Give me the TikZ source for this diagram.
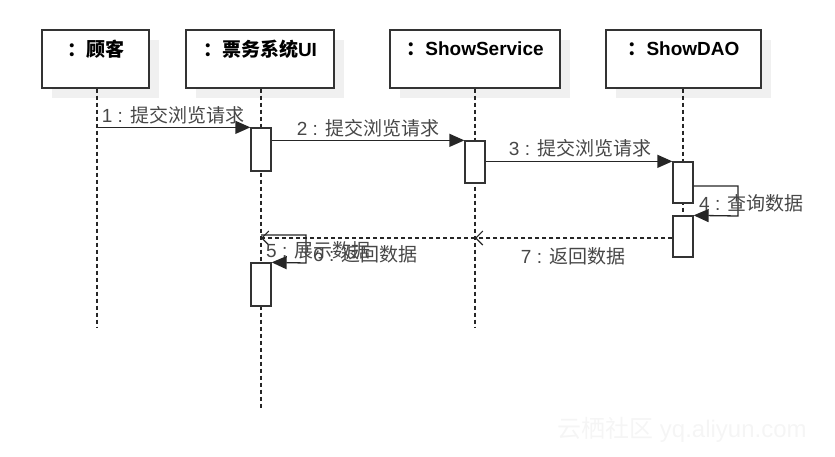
\documentclass[tikz,border=0pt]{standalone}
\usepackage{fontspec}
\setmainfont{Liberation Sans}
\newfontfamily\cjk{Noto Sans CJK SC}
\usetikzlibrary{arrows.meta,shadows}
\tikzset{
  hdr/.style={draw=black!80, line width=1.3pt, fill=white, inner sep=0pt, minimum height=58pt,
     drop shadow={shadow xshift=10pt, shadow yshift=-10pt, fill=black!6, opacity=1}},
  hdrtext/.style={font=\fontsize{19}{21}\selectfont\bfseries, text=black, inner sep=0pt},
  life/.style={line width=1.2pt, draw=black!85, dash pattern=on 4pt off 3pt},
  act/.style={draw=black!80, line width=1.3pt, fill=white, minimum width=20pt, inner sep=0pt},
  msg/.style={line width=1.3pt, draw=black!85, -{Triangle[length=15pt,width=13pt]}},
  ret/.style={line width=1.1pt, draw=black!85, dash pattern=on 4pt off 3pt, -{Straight Barb[length=7pt,width=14pt]}},
  lbl/.style={font=\fontsize{19}{21}\selectfont, text=black!72, inner sep=0pt},
}
\begin{document}
\begin{tikzpicture}[x=1pt,y=-1pt]
\useasboundingbox (0,0) rectangle (835,456);
% headers
\node[hdr, minimum width=107pt] (h1) at (95.5,59) {};
\node[hdr, minimum width=148pt] (h2) at (260,59) {};
\node[hdr, minimum width=170pt] (h3) at (475,59) {};
\node[hdr, minimum width=155pt] (h4) at (683.5,59) {};
\node[hdrtext] (t1) at (96,49) {\cjk\bfseries ：顾客};
\node[hdrtext] (t2) at (260,49) {{\cjk\bfseries ：票务系统}UI};
\node[hdrtext] (t3) at (475,49) {{\cjk\bfseries ：}ShowService};
\node[hdrtext] (t4) at (683.5,49) {{\cjk\bfseries ：}ShowDAO};
% lifeline ends
\coordinate (e1) at (97,328);
\coordinate (e2) at (261,410);
\coordinate (e3) at (475,328);
\coordinate (e4) at (683,258);
\draw[life] (h1.south -| e1) -- (e1);
\draw[life] (h2.south -| e2) -- (e2);
\draw[life] (h3.south -| e3) -- (e3);
\draw[life] (h4.south -| e4) -- (e4);
% activations
\node[act, minimum height=43pt] (a2a) at (261,149.5) {};
\node[act, minimum height=42pt] (a3) at (475,162) {};
\node[act, minimum height=41pt] (a4a) at (683,182.5) {};
\node[act, minimum height=41pt] (a4b) at (683,236.5) {};
\node[act, minimum height=43pt] (a2b) at (261,284.5) {};
% messages
\draw[msg] (e1 |- a2a.north) -- (a2a.north west);
\node[lbl] (l1) at (173,115) {1 : {\cjk 提交浏览请求}};
\draw[msg] (a2a.east |- a3.north) -- (a3.north west);
\node[lbl] (l2) at (368,128) {2 : {\cjk 提交浏览请求}};
\draw[msg] (a3.east |- a4a.north) -- (a4a.north west);
\node[lbl] (l3) at (580,148) {3 : {\cjk 提交浏览请求}};
% self message 4
\coordinate (s4a) at (738,186);
\coordinate (s4b) at (738,216);
\draw[msg] (a4a.east |- s4a) -- (s4a) -- (s4b) -- (a4b.north east);
\node[lbl, anchor=west] (l4) at (699,203) {4 : {\cjk 查询数据}};
% returns
\coordinate (r7) at (475,238);
\coordinate (r6) at (261,238);
\draw[ret] (a4b.west |- r7) -- (r7);
\node[lbl] (l7) at (573,256) {7 : {\cjk 返回数据}};
\draw[ret] (r7) -- (r6);
% self message 5
\coordinate (s5o) at (261,235);
\coordinate (s5a) at (306,235);
\coordinate (s5b) at (306,263);
\draw[msg] (s5o) -- (s5a) -- (s5b) -- (a2b.north east);
\node[lbl, anchor=west] (l5) at (266,250) {5 : {\cjk 展示数据}};
\node[lbl, anchor=west] (l6) at (313,254) {6 : {\cjk 返回数据}};
% watermark
\node[font=\fontsize{24}{26}\selectfont, text=black!4, inner sep=0pt] (wm) at (682,430) {{\cjk 云栖社区} yq.aliyun.com};
\end{tikzpicture}
\end{document}
